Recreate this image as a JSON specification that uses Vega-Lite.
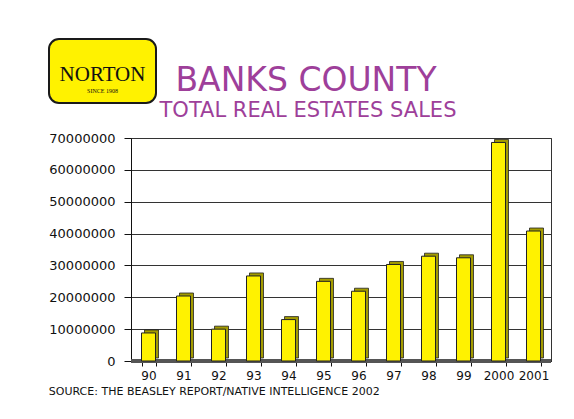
{
  "$schema": "https://vega.github.io/schema/vega-lite/v6.json",
  "background": "white",
  "padding": {"left": 48, "top": 38, "right": 0, "bottom": 0},
  "columns": 1,
  "bounds": "flush",
  "spacing": 99,
  "config": {"font": "DejaVu Sans", "view": {"stroke": null}},
  "concat": [
    {
      "spacing": 0,
      "bounds": "flush",
      "hconcat": [
        {
          "width": 107,
          "height": 64,
          "view": {"fill": "#fff200", "stroke": "#1a1a1a", "strokeWidth": 2, "cornerRadius": 10},
          "data": {"values": [{"brand": "NORTON", "since": "SINCE 1908"}]},
          "layer": [
            {"mark": {"type": "text", "font": "Liberation Serif", "fontSize": 21, "dy": 4, "color": "#111"}, "encoding": {"text": {"field": "brand"}}},
            {"mark": {"type": "text", "font": "Liberation Serif", "fontSize": 6, "dy": 20, "color": "#111"}, "encoding": {"text": {"field": "since"}}}
          ]
        },
        {
          "width": 300,
          "height": 85,
          "data": {"values": [{"title": "BANKS COUNTY", "subtitle": "TOTAL REAL ESTATES SALES"}]},
          "layer": [
            {"mark": {"type": "text", "fontSize": 33, "color": "#9e3f9a", "baseline": "alphabetic", "dy": 9.5}, "encoding": {"text": {"field": "title"}}},
            {"mark": {"type": "text", "fontSize": 21, "color": "#9e3f9a", "baseline": "alphabetic", "dx": 2, "dy": 35.5}, "encoding": {"text": {"field": "subtitle"}}}
          ]
        }
      ]
    },
    {
      "spacing": 0,
      "bounds": "flush",
      "hconcat": [
        {
          "width": 82,
          "height": 10,
          "data": {"values": []},
          "mark": "point"
        },
        {
          "width": 420,
          "height": 223,
          "view": {"stroke": "#333", "strokeWidth": 1},
          "title": {"text": "SOURCE: THE BEASLEY REPORT/NATIVE INTELLIGENCE 2002", "orient": "bottom", "anchor": "start", "fontSize": 11, "fontWeight": "normal", "color": "#111", "offset": 5},
          "layer": [
            {
              "data": {"values": [{"sales": 0}]},
              "mark": {"type": "rule", "color": "#555", "strokeWidth": 4},
              "encoding": {
                "y": {
                  "field": "sales", "type": "quantitative",
                  "scale": {"domain": [0, 70000000], "nice": false},
                  "axis": {"title": null, "values": [0, 10000000, 20000000, 30000000, 40000000, 50000000, 60000000, 70000000], "format": "d", "labelOverlap": false, "labelFontSize": 13, "labelColor": "#111", "labelPadding": 9, "tickSize": 7, "tickColor": "#111", "domainColor": "#111", "gridColor": "#333", "gridWidth": 1, "grid": true}
                }
              }
            },
            {
              "data": {"name": "sales"},
              "mark": {"type": "bar", "color": "#a39b00", "stroke": "#222", "strokeWidth": 0.8, "xOffset": 3, "yOffset": -3},
              "encoding": {
                "x": {
                  "field": "year", "type": "nominal", "sort": null,
                  "scale": {"paddingInner": 0.6, "paddingOuter": 0.3},
                  "axis": {"title": null, "labelAngle": 0, "labelFontSize": 12, "labelPadding": 4, "tickBand": "extent", "tickSize": 5, "tickColor": "#111", "domainColor": "#111", "labelColor": "#111"}
                },
                "y": {
                  "field": "sales", "type": "quantitative",
                  "scale": {"domain": [0, 70000000], "nice": false},
                  "axis": {"title": null, "values": [0, 10000000, 20000000, 30000000, 40000000, 50000000, 60000000, 70000000], "format": "d", "labelOverlap": false, "labelFontSize": 13, "labelColor": "#111", "labelPadding": 9, "tickSize": 7, "tickColor": "#111", "domainColor": "#111", "gridColor": "#333", "gridWidth": 1, "grid": true}
                }
              }
            },
            {
              "data": {"name": "sales"},
              "mark": {"type": "bar", "color": "#fff200", "stroke": "#222", "strokeWidth": 1},
              "encoding": {
                "x": {
                  "field": "year", "type": "nominal", "sort": null,
                  "scale": {"paddingInner": 0.6, "paddingOuter": 0.3},
                  "axis": {"title": null, "labelAngle": 0, "labelFontSize": 12, "labelPadding": 4, "tickBand": "extent", "tickSize": 5, "tickColor": "#111", "domainColor": "#111", "labelColor": "#111"}
                },
                "y": {
                  "field": "sales", "type": "quantitative",
                  "scale": {"domain": [0, 70000000], "nice": false},
                  "axis": {"title": null, "values": [0, 10000000, 20000000, 30000000, 40000000, 50000000, 60000000, 70000000], "format": "d", "labelOverlap": false, "labelFontSize": 13, "labelColor": "#111", "labelPadding": 9, "tickSize": 7, "tickColor": "#111", "domainColor": "#111", "gridColor": "#333", "gridWidth": 1, "grid": true}
                }
              }
            }
          ]
        }
      ]
    }
  ],
  "datasets": {
    "sales": [
      {"year": "90", "sales": 8800000},
      {"year": "91", "sales": 20400000},
      {"year": "92", "sales": 10000000},
      {"year": "93", "sales": 26700000},
      {"year": "94", "sales": 13000000},
      {"year": "95", "sales": 25000000},
      {"year": "96", "sales": 21900000},
      {"year": "97", "sales": 30300000},
      {"year": "98", "sales": 32900000},
      {"year": "99", "sales": 32400000},
      {"year": "2000", "sales": 68600000},
      {"year": "2001", "sales": 40800000}
    ]
  }
}
